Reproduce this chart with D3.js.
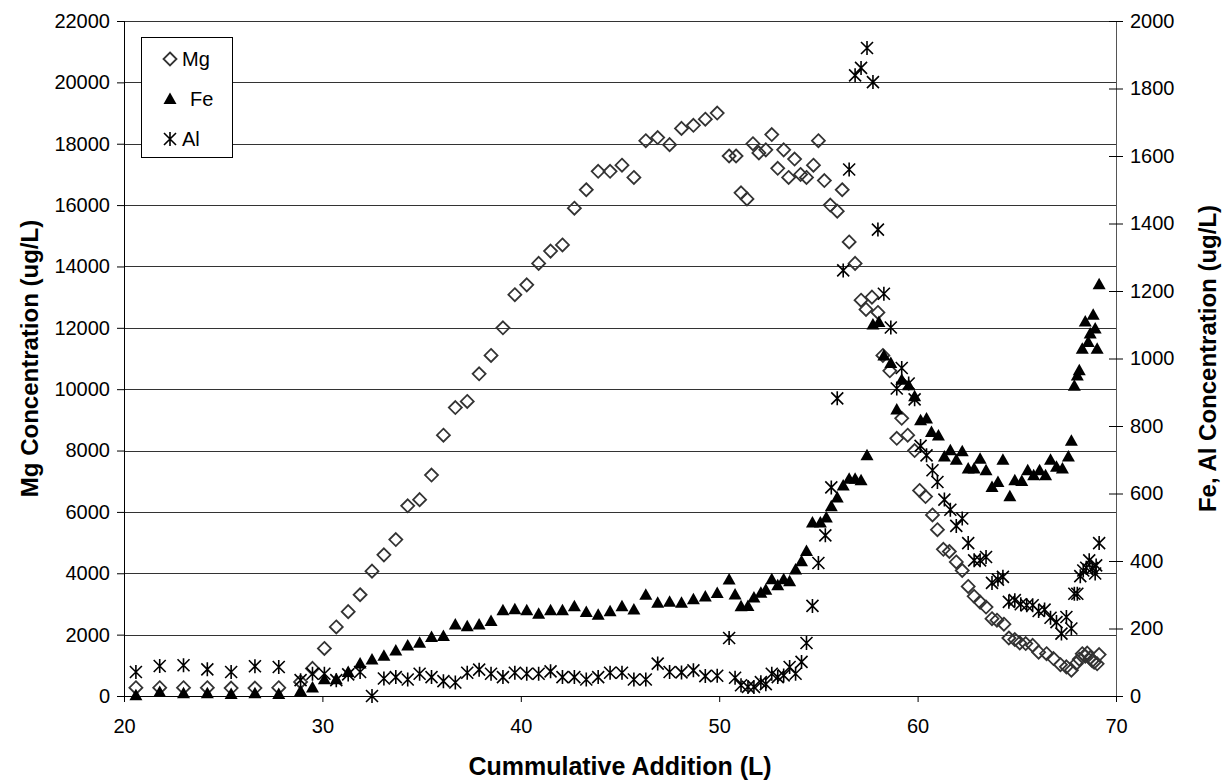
<!DOCTYPE html>
<html>
<head>
<meta charset="utf-8">
<script src="https://cdn.jsdelivr.net/npm/d3@7"></script>
<style>
  body { margin: 0; background: #fff; }
  text { font-family: "Liberation Sans", Arial, sans-serif; }
</style>
</head>
<body>
<div id="chart"></div>
<script>
// data: [volume L, concentration ug/L]
const mgData = [
  [20.6,270],[21.8,270],[23.0,270],[24.2,270],[25.4,260],[26.6,260],[27.8,270],[28.9,460],[29.5,900],
  [30.1,1550],[30.7,2250],[31.3,2750],[31.9,3300],[32.5,4070],[33.1,4600],[33.7,5100],[34.3,6200],
  [34.9,6400],[35.5,7200],[36.1,8500],[36.7,9400],[37.3,9600],[37.9,10500],[38.5,11100],[39.1,12000],
  [39.7,13080],[40.3,13400],[40.9,14100],[41.5,14500],[42.1,14700],[42.7,15900],[43.3,16500],
  [43.9,17100],[44.5,17100],[45.1,17300],[45.7,16900],[46.3,18100],[46.9,18200],[47.5,17970],
  [48.1,18500],[48.7,18600],[49.3,18800],[49.9,19000],[50.5,17600],[50.85,17600],[51.1,16400],
  [51.4,16200],[51.7,18000],[52.0,17700],[52.35,17800],[52.65,18300],[52.95,17200],[53.25,17800],
  [53.5,16900],[53.8,17500],[54.1,17000],[54.4,16900],[54.75,17300],[55.0,18100],[55.3,16800],
  [55.6,16000],[55.95,15800],[56.2,16500],[56.55,14800],[56.85,14100],[57.15,12900],[57.4,12600],
  [57.7,13000],[58.0,12500],[58.25,11100],[58.6,10600],[58.95,8400],[59.2,9050],[59.5,8500],
  [59.85,8000],[60.1,6700],[60.4,6500],[60.75,5900],[61.0,5420],[61.3,4780],[61.6,4710],[61.95,4370],
  [62.25,4090],[62.55,3570],[62.85,3250],[63.15,3060],[63.45,2900],[63.75,2520],[64.0,2470],
  [64.35,2340],[64.6,1890],[64.9,1840],[65.15,1730],[65.45,1710],[65.8,1650],[66.1,1430],[66.5,1380],
  [66.85,1220],[67.2,1020],[67.5,950],[67.75,840],[68.0,1060],[68.15,1200],[68.3,1380],[68.45,1300],
  [68.55,1400],[68.7,1250],[68.8,1150],[68.9,1100],[69.05,1050],[69.15,1350]
];

const feData = [
  [20.6,2],[21.8,12],[23.0,8],[24.2,8],[25.4,6],[26.6,8],[27.8,6],[28.9,15],[29.5,25],[30.1,50],
  [30.7,50],[31.3,71],[31.9,96],[32.5,108],[33.1,119],[33.7,135],[34.3,150],[34.9,158],[35.5,175],
  [36.1,178],[36.7,212],[37.3,207],[37.9,212],[38.5,222],[39.1,254],[39.7,257],[40.3,254],[40.9,244],
  [41.5,254],[42.1,254],[42.7,266],[43.3,249],[43.9,241],[44.5,251],[45.1,266],[45.7,256],[46.3,300],
  [46.9,276],[47.5,279],[48.1,276],[48.7,287],[49.3,295],[49.9,305],[50.5,345],[50.8,301],[51.1,266],
  [51.45,267],[51.75,292],[52.1,306],[52.35,315],[52.65,346],[52.95,328],[53.25,346],[53.55,340],
  [53.85,375],[54.15,399],[54.4,430],[54.7,514],[55.1,514],[55.4,529],[55.65,562],[55.95,588],
  [56.25,624],[56.55,644],[56.85,644],[57.15,639],[57.45,713],[57.75,1101],[58.05,1108],[58.3,1009],
  [58.65,987],[58.95,849],[59.2,937],[59.55,921],[59.85,888],[60.15,817],[60.45,822],[60.7,782],
  [61.05,772],[61.35,710],[61.65,728],[61.95,700],[62.25,725],[62.55,674],[62.85,674],[63.15,703],
  [63.45,669],[63.75,619],[64.05,634],[64.3,700],[64.65,592],[64.9,639],[65.25,637],[65.55,669],
  [65.85,654],[66.15,669],[66.45,654],[66.7,700],[67.0,679],[67.3,674],[67.6,710],[67.75,756],
  [67.9,919],[68.05,950],[68.15,965],[68.3,1029],[68.45,1110],[68.6,1049],[68.7,1074],[68.85,1130],
  [68.95,1089],[69.05,1029],[69.15,1220]
];

const alData = [
  [20.6,71],[21.8,89],[23.0,91],[24.2,79],[25.4,71],[26.6,88],[27.8,86],[28.9,47],[29.5,66],[30.1,66],
  [30.7,47],[31.3,64],[31.9,71],[32.5,0],[33.1,52],[33.7,56],[34.3,49],[34.9,66],[35.5,56],[36.1,44],
  [36.7,40],[37.3,69],[37.9,78],[38.5,66],[39.1,56],[39.7,69],[40.3,66],[40.9,66],[41.5,73],[42.1,56],
  [42.7,56],[43.3,49],[43.9,56],[44.5,69],[45.1,69],[45.7,49],[46.3,49],[46.9,96],[47.5,71],[48.1,70],
  [48.7,76],[49.3,59],[49.9,60],[50.5,172],[50.8,54],[51.1,32],[51.45,27],[51.75,27],[52.1,41],
  [52.35,35],[52.65,66],[52.95,56],[53.25,61],[53.55,86],[53.85,66],[54.15,101],[54.4,157],[54.7,267],
  [55.0,394],[55.35,476],[55.65,618],[55.95,882],[56.25,1261],[56.55,1560],[56.85,1839],[57.15,1861],
  [57.45,1920],[57.75,1819],[58.0,1382],[58.3,1192],[58.65,1092],[58.95,911],[59.2,972],[59.55,926],
  [59.85,879],[60.15,741],[60.45,713],[60.75,669],[61.0,634],[61.35,582],[61.65,552],[61.95,504],
  [62.25,526],[62.55,453],[62.85,402],[63.15,402],[63.45,412],[63.75,335],[64.05,345],[64.3,353],
  [64.6,279],[64.9,284],[65.2,272],[65.5,269],[65.8,269],[66.1,252],[66.4,256],[66.7,232],[67.0,219],
  [67.25,185],[67.5,234],[67.75,200],[67.9,303],[68.05,303],[68.2,355],[68.35,372],[68.5,380],
  [68.65,402],[68.8,379],[68.95,363],[69.0,387],[69.15,453]
];

const xTicks = [20, 30, 40, 50, 60, 70];
const leftTicks = d3.range(0, 22001, 2000);
const rightTicks = d3.range(0, 2001, 200);

const width = 1228, height = 782;
const margin = { top: 21, right: 112, bottom: 86, left: 124 };

const svg = d3.select("#chart").append("svg")
    .attr("width", width)
    .attr("height", height);

// scales
const x = d3.scaleLinear().domain([20, 70]).range([margin.left, width - margin.right]);
const yL = d3.scaleLinear().domain([0, 22000]).range([height - margin.bottom, margin.top]);
const yR = d3.scaleLinear().domain([0, 2000]).range([height - margin.bottom, margin.top]);

// gridlines
svg.append("g")
    .selectAll("line")
    .data(leftTicks.slice(1))
    .enter().append("line")
    .attr("x1", x(20)).attr("x2", x(70))
    .attr("y1", d => Math.round(yL(d)) + 0.5)
    .attr("y2", d => Math.round(yL(d)) + 0.5)
    .attr("stroke", "#333")
    .attr("stroke-width", 1);

// axes
const fmt = d3.format("d");
const gx = svg.append("g")
    .attr("transform", `translate(0,${yL(0)})`)
    .call(d3.axisBottom(x).tickValues(xTicks).tickSize(6).tickPadding(17).tickFormat(fmt));
const gl = svg.append("g")
    .attr("transform", `translate(${x(20)},0)`)
    .call(d3.axisLeft(yL).tickValues(leftTicks).tickSize(7).tickPadding(7).tickFormat(fmt));
const gr = svg.append("g")
    .attr("transform", `translate(${x(70)},0)`)
    .call(d3.axisRight(yR).tickValues(rightTicks).tickSize(7).tickPadding(7).tickFormat(fmt));
gr.selectAll(".tick line").attr("x1", -7);

[gx, gl, gr].forEach(g => {
  g.selectAll("text").attr("font-size", 20).attr("fill", "#000")
      .attr("font-family", "Liberation Sans, Arial, sans-serif");
});
gx.select(".domain").attr("d", `M${x(20)},0.5H${x(70)}`);
gl.select(".domain").attr("d", `M0.5,${yL(0)}V${yL(22000)}`);
gr.select(".domain").attr("d", `M0.5,${yR(0)}V${yR(2000)}`).attr("stroke", "#555");

// marker shapes
const diamond = "M0,-6.5L6.5,0L0,6.5L-6.5,0Z";
const triangle = "M0,-6.5L6.5,5L-6.5,5Z";
const star = "M0,-7V7M-6,-6L6,6M-6,6L6,-6";

// Mg on left axis
svg.append("g").selectAll("path")
    .data(mgData).enter().append("path")
    .attr("transform", d => `translate(${x(d[0])},${yL(d[1])})`)
    .attr("d", diamond)
    .attr("fill", "none")
    .attr("stroke", "#333")
    .attr("stroke-width", 1.8);

// Fe on right axis
svg.append("g").selectAll("path")
    .data(feData).enter().append("path")
    .attr("transform", d => `translate(${x(d[0])},${yR(d[1])})`)
    .attr("d", triangle)
    .attr("fill", "#000");

// Al on right axis
svg.append("g").selectAll("path")
    .data(alData).enter().append("path")
    .attr("transform", d => `translate(${x(d[0])},${yR(d[1])})`)
    .attr("d", star)
    .attr("fill", "none")
    .attr("stroke", "#000")
    .attr("stroke-width", 1.6);

// legend
const legend = svg.append("g");
legend.append("rect")
    .attr("x", 141.5).attr("y", 37.5)
    .attr("width", 91).attr("height", 120)
    .attr("fill", "#fff").attr("stroke", "#000");
const items = [
  { name: "Mg", shape: diamond, y: 59, tx: 182 },
  { name: "Fe", shape: triangle, y: 99, tx: 190 },
  { name: "Al", shape: star, y: 139, tx: 182 }
];
items.forEach((it, i) => {
  const p = legend.append("path")
      .attr("transform", `translate(170,${it.y})`)
      .attr("d", it.shape);
  if (i === 0) p.attr("fill", "none").attr("stroke", "#333").attr("stroke-width", 1.8);
  else if (i === 1) p.attr("fill", "#000");
  else p.attr("fill", "none").attr("stroke", "#000").attr("stroke-width", 1.6);
  legend.append("text")
      .attr("x", it.tx).attr("y", it.y + 7)
      .attr("font-size", 20)
      .text(it.name);
});

// axis titles
svg.append("text")
    .attr("x", (x(20) + x(70)) / 2).attr("y", 775)
    .attr("text-anchor", "middle")
    .attr("font-size", 25).attr("font-weight", "bold")
    .text("Cummulative Addition (L)");
svg.append("text")
    .attr("transform", `translate(38,${(yL(0) + yL(22000)) / 2}) rotate(-90)`)
    .attr("text-anchor", "middle")
    .attr("font-size", 24).attr("font-weight", "bold")
    .text("Mg Concentration (ug/L)");
svg.append("text")
    .attr("transform", `translate(1216,${(yL(0) + yL(22000)) / 2}) rotate(-90)`)
    .attr("text-anchor", "middle")
    .attr("font-size", 24).attr("font-weight", "bold")
    .text("Fe, Al Concentration (ug/L)");
</script>
</body>
</html>
